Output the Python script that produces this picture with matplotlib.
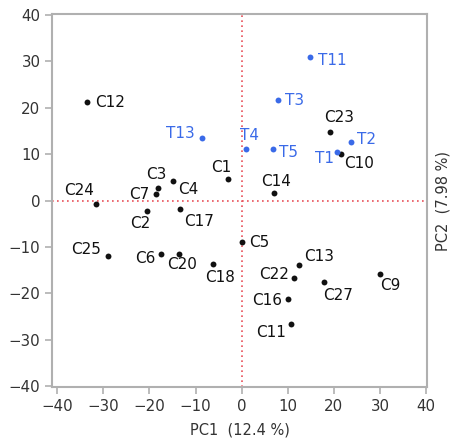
import matplotlib
matplotlib.use('Agg')
import matplotlib.pyplot as plt

plt.rcParams['font.family'] = 'DejaVu Sans'

# sample scores on the first two principal components
names = ['C1', 'C2', 'C3', 'C4', 'C5', 'C6', 'C7', 'C9', 'C10', 'C11', 'C12', 'C13',
         'C14', 'C16', 'C17', 'C18', 'C20', 'C22', 'C23', 'C24', 'C25', 'C27',
         'T1', 'T2', 'T3', 'T4', 'T5', 'T11', 'T13']
pc1 = [-3.0, -20.6, -18.2, -14.8, 0.0, -17.6, -18.6, 29.9, 21.6, 10.8, -33.6, 12.4,
       7.1, 10.0, -13.3, -6.3, -13.7, 11.3, 19.1, -31.5, -29.1, 17.8,
       20.6, 23.6, 7.8, 0.9, 6.7, 14.8, -8.7]
pc2 = [4.7, -2.2, 2.8, 4.3, -8.9, -11.6, 1.5, -15.8, 10.0, -26.6, 21.2, -13.8,
       1.7, -21.2, -1.9, -13.6, -11.4, -16.6, 14.9, -0.8, -11.9, -17.5,
       10.4, 12.7, 21.6, 11.2, 11.2, 30.9, 13.4]

xticks = [-40, -30, -20, -10, 0, 10, 20, 30, 40]
yticks = [-40, -30, -20, -10, 0, 10, 20, 30, 40]

# label placement: (dx px, dy px, ha)
offsets = {
    'C1': (-7, 11, 'center'), 'C2': (-6, -13, 'center'), 'C3': (-1, 13, 'center'),
    'C4': (5, -9, 'left'), 'C5': (7, -1, 'left'), 'C6': (-5, -4, 'right'),
    'C7': (-7, -1, 'right'), 'C9': (1, -12, 'left'), 'C10': (3, -9, 'left'),
    'C11': (-5, -8, 'right'), 'C12': (8, 0, 'left'), 'C13': (5, 8, 'left'),
    'C14': (2, 11, 'center'), 'C16': (-6, -1, 'right'), 'C17': (4, -12, 'left'),
    'C18': (7, -14, 'center'), 'C20': (4, -11, 'center'), 'C22': (-5, 3, 'right'),
    'C23': (9, 14, 'center'), 'C24': (-2, 14, 'right'), 'C25': (-7, 6, 'right'),
    'C27': (-1, -14, 'left'),
    'T1': (-3, -6, 'right'), 'T2': (6, 2, 'left'), 'T3': (7, 0, 'left'),
    'T4': (4, 13, 'center'), 'T5': (6, -4, 'left'), 'T11': (8, -3, 'left'),
    'T13': (-7, 5, 'right'),
}

blue = '#3a6ae8'
black = '#111111'
gray = '#b0b0b0'

fig = plt.figure(figsize=(4.5, 4.41), dpi=100)
ax = fig.add_axes([0.116, 0.122, 0.833, 0.846])

ax.axhline(0, color='#e8505a', ls=(0, (1, 2)), lw=1.2, zorder=1)
ax.axvline(0, color='#e8505a', ls=(0, (1, 2)), lw=1.2, zorder=1)

for n, x, y in zip(names, pc1, pc2):
    col = blue if n.startswith('T') else black
    ax.scatter(x, y, s=18, color=col, zorder=3, linewidths=0)
    dx, dy, ha = offsets[n]
    ax.annotate(n, (x, y), xytext=(dx * 0.72, dy * 0.72), textcoords='offset points',
                ha=ha, va='center', fontsize=11, color=col, zorder=4)

ax.set_xlim(-41.1, 40.2)
ax.set_ylim(-40.2, 40.2)
ax.set_xticks(xticks)
ax.set_yticks(yticks)
ax.tick_params(colors=gray, labelcolor='#333333', labelsize=10.8, length=5, width=1.2)

for sp in ax.spines.values():
    sp.set_color(gray)
    sp.set_linewidth(1.5)

ax.set_xlabel('PC1  (12.4 %)', fontsize=10.5, color='#333333', labelpad=6)
ax.yaxis.set_label_position('right')
ax.set_ylabel('PC2  (7.98 %)', fontsize=10.5, color='#333333', rotation=90, labelpad=6)

fig.savefig('out.png', dpi=100)
